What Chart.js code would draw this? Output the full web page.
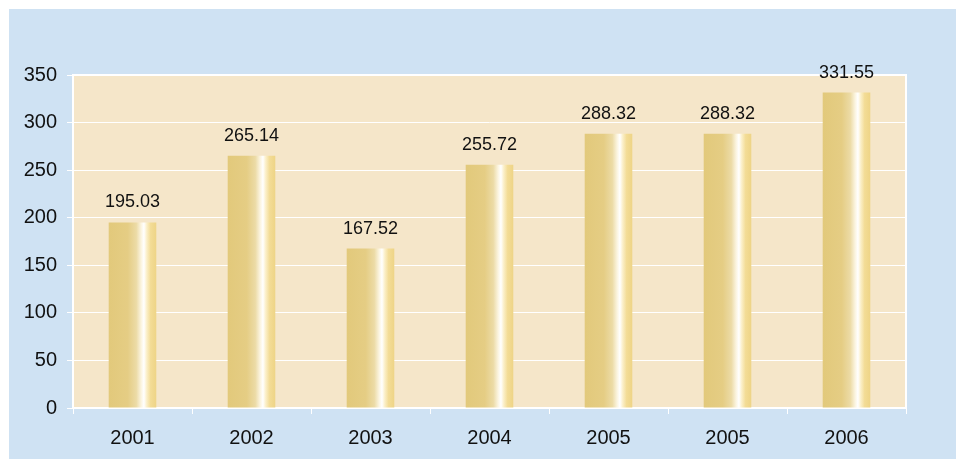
<!DOCTYPE html>
<html>
<head>
<meta charset="utf-8">
<script src="https://cdn.jsdelivr.net/npm/chart.js@4.4.1/dist/chart.umd.min.js"></script>
<style>
  html, body { margin: 0; padding: 0; background: #ffffff; }
  #wrap { width: 956px; height: 459px; position: relative; }
</style>
</head>
<body>
<div id="wrap"><canvas id="chart" width="956" height="459"></canvas></div>
<script>
// Yearly values shown as bars
const categories = ['2001', '2002', '2003', '2004', '2005', '2005', '2006'];
const values = [195.03, 265.14, 167.52, 255.72, 288.32, 288.32, 331.55];
const yTicks = [0, 50, 100, 150, 200, 250, 300, 350];

const FONT = '"Liberation Sans", Arial, Helvetica, sans-serif';
const BG_BLUE = '#cfe2f3';
const PLOT_BG = '#f5e6c9';

// Panel background, plot area fill and its white frame
const panelPlugin = {
  id: 'panel',
  beforeDraw(chart) {
    const { ctx, chartArea: a } = chart;
    ctx.save();
    ctx.fillStyle = BG_BLUE;
    ctx.fillRect(9, 9, chart.width - 9, chart.height - 9);
    ctx.fillStyle = PLOT_BG;
    ctx.fillRect(a.left, a.top, a.right - a.left, a.bottom - a.top);
    ctx.strokeStyle = '#ffffff';
    ctx.lineWidth = 2;
    ctx.strokeRect(a.left, a.top, a.right - a.left, a.bottom - a.top);
    ctx.restore();
  }
};

// Value written above each bar
const valueLabels = {
  id: 'valueLabels',
  afterDatasetsDraw(chart) {
    const { ctx } = chart;
    const meta = chart.getDatasetMeta(0);
    ctx.save();
    ctx.font = '18px ' + FONT;
    ctx.fillStyle = '#111111';
    ctx.textAlign = 'center';
    ctx.textBaseline = 'alphabetic';
    meta.data.forEach((bar, i) => {
      ctx.fillText(values[i].toFixed(2), bar.x, bar.y - 15);
    });
    ctx.restore();
  }
};

// Cylinder-like shading across each bar
function barGradient(context) {
  const chart = context.chart;
  const xs = chart.scales && chart.scales.x;
  if (!chart.chartArea || !xs) return '#e3cb7e';
  const cx = xs.getPixelForValue(context.dataIndex);
  const w = (chart.chartArea.right - chart.chartArea.left) / categories.length * 0.4;
  const g = chart.ctx.createLinearGradient(cx - w / 2, 0, cx + w / 2, 0);
  g.addColorStop(0.00, '#e2c97b');
  g.addColorStop(0.40, '#e5cd84');
  g.addColorStop(0.58, '#ecdba6');
  g.addColorStop(0.68, '#fbf4df');
  g.addColorStop(0.74, '#ffffff');
  g.addColorStop(0.80, '#fbefc8');
  g.addColorStop(0.88, '#f3dc96');
  g.addColorStop(1.00, '#eed486');
  return g;
}

new Chart(document.getElementById('chart'), {
  type: 'bar',
  data: {
    labels: categories,
    datasets: [{
      data: values,
      backgroundColor: barGradient,
      borderWidth: 0,
      categoryPercentage: 1.0,
      barPercentage: 0.4
    }]
  },
  options: {
    responsive: false,
    animation: false,
    devicePixelRatio: 1,
    layout: { padding: { top: 75, right: 50, bottom: 0, left: 0 } },
    plugins: { legend: { display: false }, tooltip: { enabled: false } },
    scales: {
      x: {
        grid: {
          offset: true,
          drawOnChartArea: false,
          drawTicks: true,
          tickLength: 6,
          color: '#ffffff',
          lineWidth: 1
        },
        border: { display: false },
        ticks: {
          color: '#111111',
          font: { family: FONT, size: 20 },
          padding: 12,
          maxRotation: 0
        },
        afterFit(scale) { scale.height = 51; }
      },
      y: {
        min: 0,
        max: 350,
        afterBuildTicks(scale) { scale.ticks = yTicks.map(v => ({ value: v })); },
        grid: {
          color: '#ffffff',
          lineWidth: 1,
          tickLength: 6,
          drawTicks: true
        },
        border: { display: false },
        ticks: {
          color: '#111111',
          font: { family: FONT, size: 20 },
          padding: 10
        },
        afterFit(scale) { scale.width = 73; }
      }
    }
  },
  plugins: [panelPlugin, valueLabels]
});
</script>
</body>
</html>
